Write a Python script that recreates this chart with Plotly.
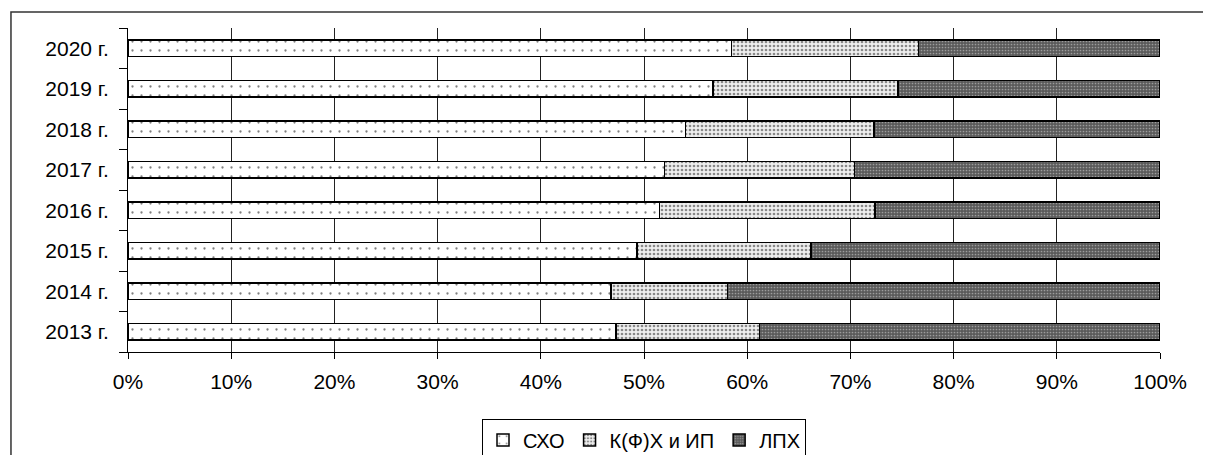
import plotly.graph_objects as go

years = ["2013 г.", "2014 г.", "2015 г.", "2016 г.", "2017 г.", "2018 г.", "2019 г.", "2020 г."]
sho = [47.3, 46.8, 49.3, 51.5, 52.0, 54.0, 56.7, 58.5]
kfh = [13.9, 11.3, 16.9, 20.9, 18.4, 18.3, 17.9, 18.1]
lph = [38.8, 41.9, 33.8, 27.6, 29.6, 27.7, 25.4, 23.4]
series_names = ["СХО", "К(Ф)Х и ИП", "ЛПХ"]
x_ticks = [0, 10, 20, 30, 40, 50, 60, 70, 80, 90, 100]
x_labels = [f"{v}%" for v in x_ticks]

FONT = "Liberation Sans, Arial, sans-serif"

patterns = [
    dict(shape=".", bgcolor="white", fgcolor="black", size=9, solidity=0.05),
    dict(shape=".", bgcolor="#eeeeee", fgcolor="#222", size=4, solidity=0.35),
    dict(shape=".", bgcolor="#5a5a5a", fgcolor="#dddddd", size=3, solidity=0.25),
]

fig = go.Figure()
for name, vals, pat in zip(series_names, [sho, kfh, lph], patterns):
    fig.add_trace(go.Bar(
        y=years, x=vals, name=name, orientation="h",
        marker=dict(color=pat["bgcolor"], pattern=pat, line=dict(color="black", width=1.5)),
        width=0.4,
    ))

# The page body adds an 8px margin, so the figure is 8px smaller and margins shifted.
fig.update_layout(
    barmode="stack",
    width=1203, height=447,
    margin=dict(l=120, r=51, t=20, b=103, autoexpand=False),
    paper_bgcolor="white", plot_bgcolor="white",
    font=dict(family=FONT, size=21, color="black"),
    showlegend=True,
    legend=dict(
        orientation="h", x=0.5, xanchor="center", y=-0.208, yanchor="top",
        bordercolor="black", borderwidth=1, font=dict(size=20),
        itemwidth=30, traceorder="normal", bgcolor="white",
    ),
    xaxis=dict(
        range=[0, 100], tickvals=x_ticks, ticktext=x_labels,
        showgrid=True, gridcolor="#222", gridwidth=1,
        showline=True, linecolor="black", linewidth=1,
        ticks="outside", ticklen=6, tickcolor="black", zeroline=False,
        ticklabelstandoff=5, automargin=False,
    ),
    yaxis=dict(
        categoryorder="array", categoryarray=years,
        showgrid=False, showline=True, linecolor="black", linewidth=1,
        ticks="outside", ticklen=8, tickcolor="black", tickson="boundaries",
        ticklabelstandoff=14, automargin=False,
    ),
    shapes=[dict(
        type="rect", xref="paper", yref="paper",
        x0=-0.1134, x1=1.3, y0=-0.6, y1=1.049,
        line=dict(color="#333", width=1.5), fillcolor="rgba(0,0,0,0)", layer="below",
    )],
)

fig.write_html("out.html")
